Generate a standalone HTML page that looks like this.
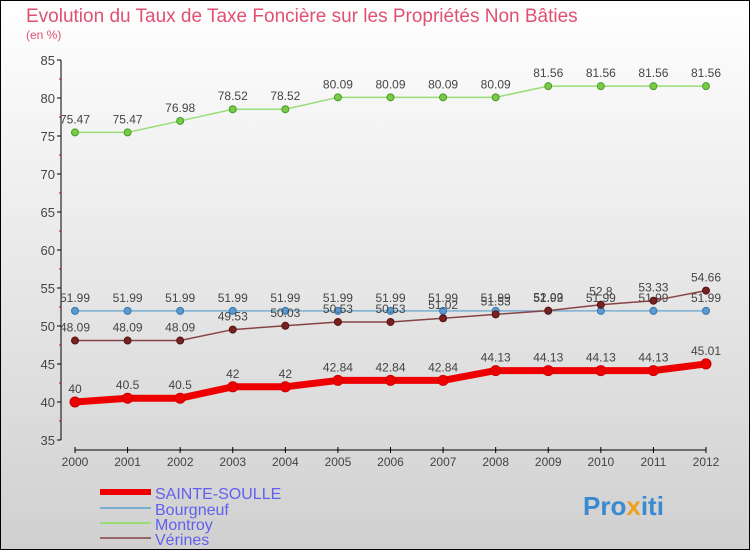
<!DOCTYPE html>
<html><head><meta charset="utf-8"><style>
body{margin:0;width:750px;height:550px;overflow:hidden;font-family:"Liberation Sans",sans-serif}
svg text{font-family:"Liberation Sans",sans-serif}
</style></head><body>
<svg id="c" width="750" height="550" xmlns="http://www.w3.org/2000/svg">
<defs><linearGradient id="bg" x1="0" y1="0" x2="0" y2="1"><stop offset="0" stop-color="#ffffff"/><stop offset="1" stop-color="#d0d0d0"/></linearGradient></defs>
<rect x="0.5" y="0.5" width="749" height="549" fill="url(#bg)" stroke="#000"/>
<text x="26" y="22" font-size="19" fill="#e05070">Evolution du Taux de Taxe Foncière sur les Propriétés Non Bâties</text>
<text x="26" y="39" font-size="12" fill="#e05070">(en %)</text>
<g id="axes"></g><g id="series"></g>
<g>
<line x1="100" y1="492" x2="151" y2="492" stroke="#e00" stroke-width="6"/>
<text x="155" y="499" font-size="16" fill="#6060ee">SAINTE-SOULLE</text>
<line x1="100" y1="508" x2="151" y2="508" stroke="#7aaed0" stroke-width="2"/>
<text x="155" y="515" font-size="16" fill="#6060ee">Bourgneuf</text>
<line x1="100" y1="523" x2="151" y2="523" stroke="#99dd77" stroke-width="2"/>
<text x="155" y="530" font-size="16" fill="#6060ee">Montroy</text>
<line x1="100" y1="538" x2="151" y2="538" stroke="#996666" stroke-width="2"/>
<text x="155" y="545" font-size="16" fill="#6060ee">Vérines</text>
</g>
<g><text x="583" y="515" font-size="26" font-weight="bold" fill="#3a8ad0">Pro<tspan fill="#f0a020">x</tspan>iti</text></g>
</svg>
<script>
const years=[2000,2001,2002,2003,2004,2005,2006,2007,2008,2009,2010,2011,2012];
const sainteSoulle=[40,40.5,40.5,42,42,42.84,42.84,42.84,44.13,44.13,44.13,44.13,45.01];
const bourgneuf=[51.99,51.99,51.99,51.99,51.99,51.99,51.99,51.99,51.99,51.99,51.99,51.99,51.99];
const montroy=[75.47,75.47,76.98,78.52,78.52,80.09,80.09,80.09,80.09,81.56,81.56,81.56,81.56];
const verines=[48.09,48.09,48.09,49.53,50.03,50.53,50.53,51.02,51.53,52.02,52.8,53.33,54.66];
const yTicks=[35,40,45,50,55,60,65,70,75,80,85];
const NS="http://www.w3.org/2000/svg";
const xs=i=>75+i*(706-75)/(years.length-1);
const ys=v=>440-(v-35)*(380/50);
function mk(tag,attrs,parent,txt){const e=document.createElementNS(NS,tag);for(const k in attrs)e.setAttribute(k,attrs[k]);if(txt!==undefined)e.textContent=txt;parent.appendChild(e);return e;}
const ax=document.getElementById('axes');
let yl=mk('line',{x1:61,y1:60,x2:61,y2:440,stroke:'#000'},ax);


yTicks.forEach(v=>{
 let t=mk('line',{x1:57,y1:ys(v),x2:61,y2:ys(v),stroke:'#000'},ax);
 
 
 if(v<85){let m=mk('line',{x1:59,y1:ys(v+2.5),x2:61,y2:ys(v+2.5),stroke:'#d00'},ax);
 
 }
 let l=mk('text',{x:55,y:ys(v)+5,'font-size':13,'text-anchor':'end',fill:'#444'},ax,v);
 
 
});
let xl=mk('line',{x1:75,y1:450,x2:706,y2:450,stroke:'#000'},ax);


years.forEach((y,i)=>{
 let t=mk('line',{x1:xs(i),y1:447,x2:xs(i),y2:453,stroke:'#000'},ax);
 
 
 let l=mk('text',{x:xs(i),y:466,'font-size':12,'text-anchor':'middle',fill:'#444'},ax,y);
 
 
});
const sg=document.getElementById('series');
function series(name,data,color,w,dot,dotStroke,r){
 const g=mk('g',{},sg);
 
 
 const pl=mk('polyline',{points:data.map((v,i)=>xs(i)+','+ys(v)).join(' '),fill:'none',stroke:color,'stroke-width':w,'stroke-linejoin':'round'},g);
 
 
 data.forEach((v,i)=>{
  const c=mk('circle',{cx:xs(i),cy:ys(v),r:r,fill:dot,stroke:dotStroke,'stroke-width':1},g);
  
  
  const t=mk('text',{x:xs(i),y:ys(v)-9,'font-size':12,'text-anchor':'middle',fill:'#444'},g,String(v));
  
  
 });
}
series('montroy',montroy,'#99dd77',1.5,'#77cc44','#4a9a2a',3.5);
series('bourgneuf',bourgneuf,'#7aaed0',1.5,'#5a9ad0','#3a78a8',3.5);
series('verines',verines,'#884444',1.5,'#772222','#551111',3.5);
series('sainte-soulle',sainteSoulle,'#ee0000',7,'#ee0000','#cc0000',5);
</script>
</body></html>
